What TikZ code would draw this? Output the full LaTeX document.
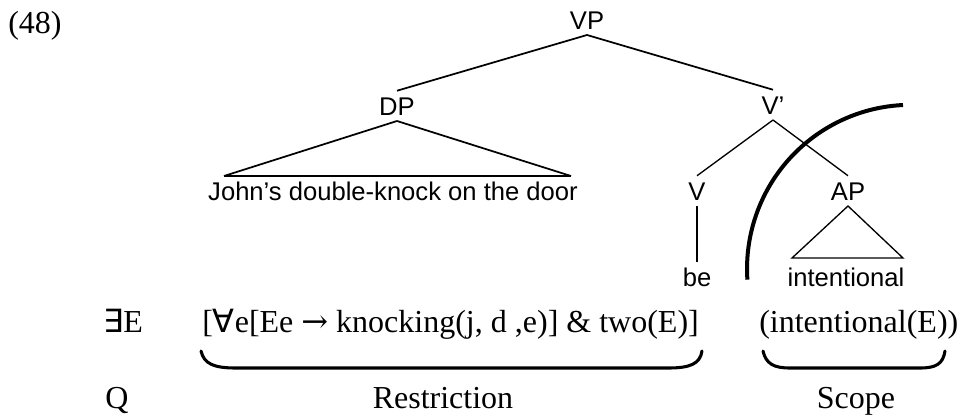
\documentclass[tikz,border=0pt]{standalone}
\usepackage{fontspec}
\setmainfont{Liberation Serif}
\setsansfont{Liberation Sans}
\newfontfamily\symfont{DejaVu Sans}
\newfontfamily\arrfont{DejaVu Serif}
\usetikzlibrary{calc}
\begin{document}
\begin{tikzpicture}[x=0.75pt,y=-0.75pt,
  tlabel/.style={font=\sffamily\fontsize{19.2}{22}\selectfont, inner sep=0pt, outer xsep=0pt, outer ysep=4.5pt, text height=13.7pt, text depth=0pt, anchor=base},
  flabel/.style={font=\fontsize{24}{27}\selectfont, inner sep=0pt, anchor=base},
  branch/.style={line width=1.3pt},
  thinbranch/.style={line width=1.0pt},
  heavy/.style={line width=2.2pt},
  bracestyle/.style={line width=2.3pt, line cap=round},
  scopearc/.style={line width=3pt}]
\useasboundingbox (0,0) rectangle (961,415);

% example number
\node[flabel, anchor=base west] (num) at (8,33) {(48)};

% tree
\node[tlabel] (VP) at (587,29) {VP};
\node[tlabel] (DP) at (397,115) {DP};
\node[tlabel] (Vbar) at (773,114) {V’};
\node[tlabel] (john) at (393,200) {John’s double-knock on the door};
\node[tlabel] (V) at (697,200) {V};
\node[tlabel] (AP) at (848,200) {AP};
\node[tlabel] (be) at (697,286) {be};
\node[tlabel] (intl) at (846,286) {intentional};

\coordinate (dpL) at (224,176);
\coordinate (dpR) at (571,176);
\draw[branch] (VP.south) -- (DP.north);
\draw[branch] (VP.south) -- (Vbar.north);
\draw[branch] (dpL) -- (DP.south) -- (dpR);
\draw[heavy] (dpL) -- (dpR);
\draw[thinbranch] (Vbar.south) -- (V.north);
\draw[thinbranch] (Vbar.south) -- (AP.north);
\draw[heavy] (V.south) -- (be.north);
\draw[thinbranch] (AP.south) -- (792,258) -- (903,258) -- cycle;

% scope arc
\draw[scopearc] (903,105) arc[start angle=267.2, end angle=176.2, radius=164];

% formula
\node[flabel, anchor=base west] (quant) at (103,332) {{\symfont ∃}E};
\node[flabel, anchor=base west] (restrf) at (202,332) {[{\symfont ∀}e[Ee {\arrfont\fontsize{24}{27}\selectfont →} knocking(j, d ,e)] \& two(E)]};
\node[flabel, anchor=base west] (scopef) at (759,332) {(intentional(E))};

% braces
\draw[bracestyle] (201,351) .. controls (204,364) and (214,368) .. (236,368) -- (668,368) .. controls (690,368) and (700,364) .. (702,351);
\draw[bracestyle] (763,351) .. controls (766,364) and (774,368) .. (790,368) -- (920,368) .. controls (936,368) and (943,364) .. (945,351);

% labels
\node[flabel, anchor=base west] (q) at (105,408) {Q};
\node[flabel] (restr) at (443,408) {Restriction};
\node[flabel] (scope) at (856,408) {Scope};
\end{tikzpicture}
\end{document}
